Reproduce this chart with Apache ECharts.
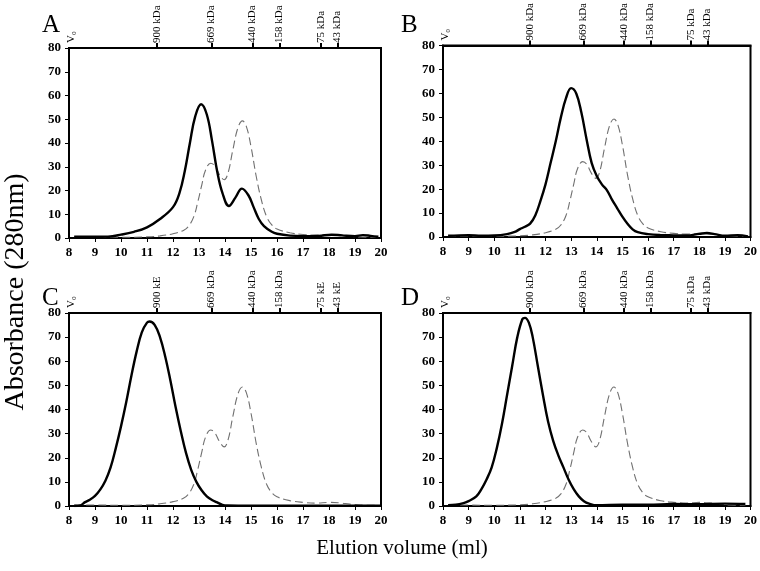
<!DOCTYPE html>
<html>
<head>
<meta charset="utf-8">
<style>html,body{margin:0;padding:0;background:#fff}#c{width:760px;height:571px}</style>
<script src="https://cdn.jsdelivr.net/npm/echarts@6/dist/echarts.min.js"></script>
</head>
<body>
<div id="c"></div>
<script>
// ---- data ----
const panelLetters = ['A', 'B', 'C', 'D'];
const xAxisTitle = 'Elution volume (ml)';
const yAxisTitle = 'Absorbance (280nm)';

// top axis (molecular weight standards)
const markerValues = [8.1, 11.38, 13.48, 15.05, 16.1, 17.68, 18.32];
const markerLabels = ['V₀', '900 kDa', '669 kDa', '440 kDa', '158 kDa', '75 kDa', '43 kDa'];
const markerLabelsC = ['V₀', '900 kE', '669 kDa', '440 kDa', '158 kDa', '75 kE', '43 kE'];

// dashed: standards run (same in every panel)
const standardCurve = [
  [8.2,0.5],[9,0.4],[10,0.3],[11,0.5],[11.5,0.9],[12,1.8],[12.4,3.2],[12.6,5],[12.8,9],[12.95,15],
  [13.1,22],[13.25,28.5],[13.45,31.5],[13.6,30.5],[13.8,26.5],[13.97,24.5],[14.12,27.5],[14.3,37],
  [14.5,46.5],[14.67,49.3],[14.82,47],[15.0,38.5],[15.2,26],[15.4,16],[15.6,9],[15.8,5.5],[16,3.8],
  [16.5,2.2],[17,1.5],[17.5,1.2],[18,1.5],[18.4,1.3],[18.8,0.8],[19.2,0.4],[19.8,0.3]
];

const sampleA = [
  [8.2,0.5],[9,0.5],[9.5,0.6],[10,1.4],[10.5,2.6],[11,4.5],[11.5,8],[12,13],[12.25,19],[12.45,28],
  [12.65,40],[12.85,51],[13.08,56.3],[13.3,52],[13.5,41],[13.7,28],[13.9,19],[14.15,13.5],[14.4,17],
  [14.65,20.8],[14.9,18],[15.1,13],[15.3,8],[15.5,5],[15.8,2.6],[16,1.8],[16.5,1],[17,0.8],[17.6,0.9],
  [18.1,1.4],[18.5,1.1],[19,0.8],[19.3,1.2],[19.6,0.9],[19.9,0.5]
];

const sampleB = [
  [8.2,0.5],[9,0.8],[9.5,0.5],[10,0.6],[10.5,1.2],[10.8,2.1],[11,3.3],[11.2,4.3],[11.4,5.6],[11.6,9],
  [11.8,15],[12,22],[12.2,31],[12.4,40],[12.6,50],[12.8,58],[13.0,62.2],[13.2,60],[13.4,52],[13.6,41],
  [13.8,31],[14.0,25.5],[14.2,22],[14.4,19.5],[14.6,15.5],[14.8,12],[15.0,8.5],[15.2,5.5],[15.4,3.2],
  [15.6,2],[16,1.2],[16.5,0.8],[17,0.7],[17.5,0.6],[18,1.3],[18.3,1.7],[18.6,1.2],[19,0.5],[19.5,0.8],[19.9,0.2]
];

const sampleC = [
  [8.2,0],[8.45,0.3],[8.6,1.5],[8.8,2.6],[9.0,4.2],[9.2,6.8],[9.4,10.5],[9.6,16],[9.8,24],[10.0,33],
  [10.2,43],[10.4,54],[10.6,64],[10.8,72],[11.0,76],[11.1,76.5],[11.3,75],[11.5,70],[11.7,62],
  [11.9,52],[12.1,41],[12.3,31],[12.5,22],[12.7,15],[12.9,10],[13.1,6.5],[13.3,4],[13.5,2.5],
  [13.7,1.5],[13.9,0.5],[14.1,0.2],[15,0.1],[17,0.1],[20,0.1]
];

const sampleD = [
  [8.2,0.3],[8.5,0.5],[8.8,1.2],[9.0,2],[9.3,4],[9.5,7],[9.7,11],[9.9,16],[10.1,24],[10.3,34],
  [10.5,46],[10.7,58],[10.9,70],[11.1,77.5],[11.2,78],[11.35,76],[11.5,70],[11.7,58],[11.9,46],
  [12.1,35],[12.3,27],[12.5,21],[12.7,16],[12.9,11],[13.1,7],[13.3,4],[13.5,2],[13.7,1],[14,0.3],
  [15,0.5],[16,0.5],[17,0.8],[18,0.7],[19,1],[19.8,0.8]
];

const samples = [sampleA, sampleB, sampleC, sampleD];
const topLabelSets = [markerLabels, markerLabels, markerLabelsC, markerLabels];

// ---- layout ----
const grids = [
  {left: 69, top: 48, width: 312, height: 190},
  {left: 443, top: 43, width: 312, height: 194},
  {left: 69, top: 313, width: 312, height: 193},
  {left: 443, top: 313, width: 312, height: 193}
];
const letterPos = [[37, 8], [396, 8], [37, 281], [396, 281]];
const serif = '"Liberation Serif", "DejaVu Serif", serif';

const option = {
  animation: false,
  backgroundColor: '#fff',
  title: [],
  grid: [], xAxis: [], yAxis: [], series: []
};

grids.forEach((g, i) => {
  option.grid.push(Object.assign({show: true, borderColor: '#000', borderWidth: 2, backgroundColor: 'transparent'}, g));
  option.title.push({
    text: panelLetters[i], left: letterPos[i][0], top: letterPos[i][1],
    textStyle: {fontFamily: serif, fontSize: 25, fontWeight: 'normal', color: '#000'}
  });
  // bottom axis
  option.xAxis.push({
    type: 'value', gridIndex: i, min: 8, max: 20, interval: 1, position: 'bottom',
    axisLine: {show: true, onZero: false, lineStyle: {color: '#000', width: 2}},
    axisTick: {show: true, length: 4, lineStyle: {color: '#000'}},
    axisLabel: {color: '#000', fontFamily: serif, fontWeight: 'bold', fontSize: 13, margin: 8},
    splitLine: {show: false}
  });
  // top axis with standards
  const labels = topLabelSets[i];
  option.xAxis.push({
    type: 'value', gridIndex: i, min: 8, max: 20, position: 'top',
    axisLine: {show: true, onZero: false, lineStyle: {color: '#000', width: 2}},
    axisTick: {show: true, length: 5, lineStyle: {color: '#000', width: 2}, customValues: markerValues.slice(1)},
    axisLabel: {
      show: true, customValues: markerValues, rotate: -90, margin: 5,
      color: '#000', fontFamily: serif, fontSize: 11,
      formatter: function (v) {
        let best = 0, d = 1e9;
        markerValues.forEach((m, k) => { if (Math.abs(m - v) < d) { d = Math.abs(m - v); best = k; } });
        return labels[best];
      }
    },
    splitLine: {show: false}
  });
  option.yAxis.push({
    type: 'value', gridIndex: i, min: 0, max: 80, interval: 10,
    axisLine: {show: true, lineStyle: {color: '#000', width: 2}},
    axisTick: {show: true, length: 4, lineStyle: {color: '#000'}},
    axisLabel: {color: '#000', fontFamily: serif, fontWeight: 'bold', fontSize: 13, margin: 8},
    splitLine: {show: false}
  });
  option.series.push({
    type: 'line', xAxisIndex: i * 2, yAxisIndex: i, data: standardCurve, smooth: 0.4,
    showSymbol: false, lineStyle: {color: '#707070', width: 1.1, type: [8, 4]}, z: 2
  });
  option.series.push({
    type: 'line', xAxisIndex: i * 2, yAxisIndex: i, data: samples[i], smooth: 0.4,
    showSymbol: false, lineStyle: {color: '#000', width: 2.4}, z: 3
  });
});

option.graphic = [
  {type: 'text', rotation: Math.PI / 2, x: 16, y: 292,
   style: {text: yAxisTitle, font: '28px ' + serif, fill: '#000', textAlign: 'center', textVerticalAlign: 'middle'}},
  {type: 'text', x: 402, y: 548,
   style: {text: xAxisTitle, font: '21px ' + serif, fill: '#000', textAlign: 'center', textVerticalAlign: 'middle'}}
];

const chart = echarts.init(document.getElementById('c'), null, {renderer: 'canvas'});
chart.setOption(option);
</script>
</body>
</html>
